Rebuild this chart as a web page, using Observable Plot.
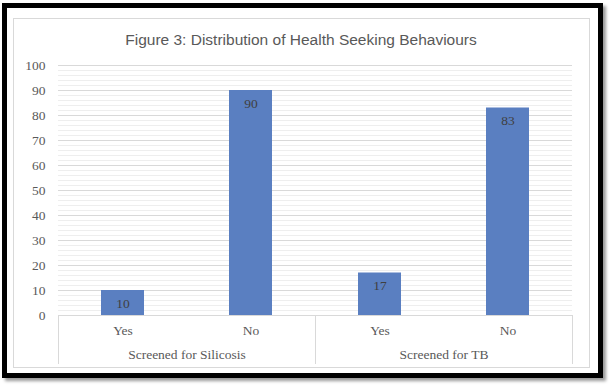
<!DOCTYPE html>
<html>
<head>
<meta charset="utf-8">
<script src="https://cdn.jsdelivr.net/npm/d3@7"></script>
<script src="https://cdn.jsdelivr.net/npm/@observablehq/plot@0.6"></script>
<style>
  html, body { margin: 0; padding: 0; background: #ffffff; }
  #page { position: relative; width: 612px; height: 389px; overflow: hidden; background: #fff; }
  #outer { position: absolute; left: 2px; top: 3px; width: 591px; height: 365px; border: 5px solid #000; box-shadow: 3px 3px 3px #9a9a9a; }
  #inner { position: absolute; left: 13px; top: 18px; width: 575px; height: 348px; border: 1px solid #d9d9d9; }
  #title { position: absolute; left: 0; width: 602px; top: 31px; text-align: center; font-family: "Liberation Sans", Arial, sans-serif; font-size: 15.5px; color: #595959; }
  #chart { position: absolute; left: 0; top: 50px; }
</style>
</head>
<body>
<div id="page">
  <div id="outer"></div>
  <div id="inner"></div>
  <div id="title">Figure 3: Distribution of Health Seeking Behaviours</div>
  <div id="chart"></div>
</div>
<script>
const groups = ["Screened for Silicosis", "Screened for TB"];
const answers = ["Yes", "No"];
const silicosisValues = [10, 90];
const tbValues = [17, 83];
const yTicks = [0, 10, 20, 30, 40, 50, 60, 70, 80, 90, 100];
const yMinorTicks = d3.range(0, 101, 2);

const data = [
  ...answers.map((a, i) => ({group: groups[0], answer: a, value: silicosisValues[i]})),
  ...answers.map((a, i) => ({group: groups[1], answer: a, value: tbValues[i]}))
];

const serif = "'Liberation Serif', 'DejaVu Serif', serif";
const plot = Plot.plot({
  width: 612,
  height: 320,
  marginLeft: 57,
  marginRight: 40,
  marginTop: 15,
  marginBottom: 55,
  style: {fontFamily: serif, fontSize: "13.5px", color: "#595959", background: "transparent"},
  fx: {domain: groups, padding: 0},
  x: {domain: answers, paddingInner: 0.667, paddingOuter: 0.333},
  y: {domain: [0, 100]},
  marks: [
    Plot.gridY(yMinorTicks, {stroke: "#eeeeee", strokeOpacity: 1}),
    Plot.gridY(yTicks, {stroke: "#d9d9d9", strokeOpacity: 1}),
    Plot.frame({anchor: "left", insetTop: 250, insetBottom: -48, stroke: "#d9d9d9"}),
    Plot.frame({anchor: "right", insetTop: 250, insetBottom: -48, stroke: "#d9d9d9"}),
    Plot.barY(data, {fx: "group", x: "answer", y: "value", fill: "#5a7fc1"}),
    Plot.text(data, {fx: "group", x: "answer", y: "value", text: d => String(d.value), dy: 13, fill: "#404040", fontSize: 13.5}),
    Plot.axisY({ticks: yTicks, tickSize: 0, tickPadding: 13, label: null, fill: "#595959"}),
    Plot.axisX({tickSize: 0, tickPadding: 10, label: null, fill: "#595959"}),
    Plot.axisFx({anchor: "bottom", tickSize: 0, tickPadding: 34, label: null, fill: "#595959"})
  ]
});
document.getElementById("chart").appendChild(plot);
</script>
</body>
</html>
